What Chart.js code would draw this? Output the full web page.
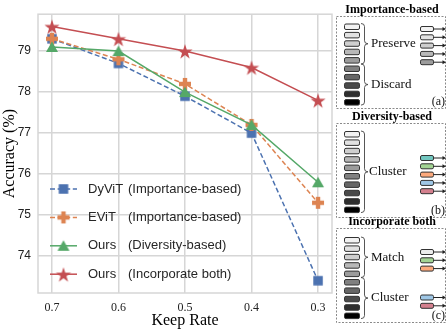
<!DOCTYPE html>
<html>
<head>
<meta charset="utf-8">
<script src="https://cdn.jsdelivr.net/npm/chart.js@4"></script>
<style>
  html, body { margin: 0; padding: 0; background: #fff; }
  #wrap { width: 447px; height: 330px; position: relative; }
</style>
</head>
<body>
<div id="wrap"><canvas id="mainChart" width="447" height="330"></canvas></div>
<script>
// ---- data ----
const keepRates = [0.7, 0.6, 0.5, 0.4, 0.3];
const dyvit    = [79.3, 78.7, 77.9, 77.0, 73.4];
const evit     = [79.3, 78.8, 78.2, 77.2, 75.3];
const oursDiv  = [79.1, 79.0, 78.0, 77.2, 75.8];
const oursBoth = [79.6, 79.3, 79.0, 78.6, 77.8];
const seriesNames = ["DyViT", "EViT", "Ours", "Ours"];
const seriesTags  = ["(Importance-based)", "(Importance-based)", "(Diversity-based)", "(Incorporate both)"];
const panelTitles = ["Importance-based", "Diversity-based", "Incorporate both"];
const panelTags   = ["(a)", "(b)", "(c)"];

const BLUE = "#4c72b0", ORANGE = "#dd8452", GREEN = "#55a868", RED = "#c44e52";
const GRID = "#d6d6d6";
const SERIF = "'Liberation Serif', 'DejaVu Serif', serif";
const SANS = "'Liberation Sans', Arial, sans-serif";

// ---- marker images ----
function markerCanvas(size, draw) {
  const c = document.createElement("canvas");
  c.width = size; c.height = size;
  draw(c.getContext("2d"), size / 2);
  return c;
}
const squareMark = markerCanvas(12, (g, m) => {
  g.fillStyle = BLUE; g.fillRect(m - 4.75, m - 4.75, 9.5, 9.5);
});
const plusMark = markerCanvas(14, (g, m) => {
  g.fillStyle = ORANGE;
  g.fillRect(m - 6, m - 2.2, 12, 4.4);
  g.fillRect(m - 2.2, m - 6, 4.4, 12);
});
const triMark = markerCanvas(14, (g, m) => {
  g.fillStyle = GREEN;
  g.beginPath();
  g.moveTo(m, m - 5.5); g.lineTo(m + 6, m + 5); g.lineTo(m - 6, m + 5);
  g.closePath(); g.fill();
});
const starMark = markerCanvas(20, (g, m) => {
  const R = 8, r = R * 0.382;
  g.fillStyle = RED;
  g.beginPath();
  for (let i = 0; i < 10; i++) {
    const a = -Math.PI / 2 + i * Math.PI / 5;
    const rr = i % 2 ? r : R;
    g.lineTo(m + rr * Math.cos(a), m + 1 + rr * Math.sin(a));
  }
  g.closePath(); g.fill();
});

const marks = [squareMark, plusMark, triMark, starMark];
const colors = [BLUE, ORANGE, GREEN, RED];
const dashes = [[5, 2.6], [5, 2.6], [], []];

function series(vals) {
  return vals.map((v, i) => ({ x: keepRates[i], y: v }));
}

// ---- frame, legend and right-hand diagrams ----
const tokenShades = ["#f2f2f2", "#e2e2e2", "#cfcfcf", "#b8b8b8", "#9c9c9c",
                     "#808080", "#666666", "#4a4a4a", "#2e2e2e", "#000000"];
const TEAL = "#72c7c0", LGREEN = "#a2d393", LORANGE = "#fba97c", LBLUE = "#9fc7e6", PINK = "#d4808e";

function token(ctx, x, y, w, h, fill) {
  ctx.fillStyle = fill;
  ctx.strokeStyle = "#333";
  ctx.lineWidth = 1;
  ctx.beginPath();
  ctx.roundRect(x + 0.5, y + 0.5, w, h, 1.5);
  ctx.fill(); ctx.stroke();
}
function arrowOut(ctx, x, y, x2) {
  ctx.strokeStyle = "#222"; ctx.lineWidth = 1;
  ctx.beginPath(); ctx.moveTo(x, y); ctx.lineTo(x2 - 2, y); ctx.stroke();
  ctx.fillStyle = "#222";
  ctx.beginPath(); ctx.moveTo(x2, y); ctx.lineTo(x2 - 3.5, y - 2); ctx.lineTo(x2 - 3.5, y + 2); ctx.closePath(); ctx.fill();
}
function brace(ctx, x, y1, y2, w) {
  const mid = (y1 + y2) / 2, h = w / 2;
  ctx.strokeStyle = "#444"; ctx.lineWidth = 0.9;
  ctx.beginPath();
  ctx.moveTo(x, y1);
  ctx.quadraticCurveTo(x + h, y1, x + h, y1 + 3);
  ctx.lineTo(x + h, mid - 3);
  ctx.quadraticCurveTo(x + h, mid, x + w, mid);
  ctx.quadraticCurveTo(x + h, mid, x + h, mid + 3);
  ctx.lineTo(x + h, y2 - 3);
  ctx.quadraticCurveTo(x + h, y2, x, y2);
  ctx.stroke();
}

const panelTops = [16, 123, 228];
const panelBottoms = [108, 217, 322];
const tokenStarts = [23.5, 131, 237];

const extras = {
  id: "extras",
  beforeDatasetsDraw(chart) {
    const { ctx, chartArea: a } = chart;
    ctx.save();
    ctx.strokeStyle = GRID; ctx.lineWidth = 1.5;
    ctx.strokeRect(a.left, a.top, a.right - a.left, a.bottom - a.top);
    ctx.restore();
  },
  afterDraw(chart) {
    const ctx = chart.ctx;
    ctx.save();
    // legend
    for (let i = 0; i < 4; i++) {
      const y = 189 + i * 28.4;
      ctx.strokeStyle = colors[i]; ctx.lineWidth = 1.5;
      ctx.setLineDash(dashes[i]);
      ctx.beginPath(); ctx.moveTo(50, y); ctx.lineTo(77, y); ctx.stroke();
      ctx.setLineDash([]);
      ctx.drawImage(marks[i], 63.5 - marks[i].width / 2, y - marks[i].height / 2);
      ctx.fillStyle = "#262626";
      ctx.font = "13px " + SANS;
      ctx.textBaseline = "middle"; ctx.textAlign = "left";
      ctx.fillText(seriesNames[i], 88, y);
      ctx.fillText(seriesTags[i], 128, y);
    }

    // diagrams
    const X0 = 336, X1 = 446;
    for (let p = 0; p < 3; p++) {
      ctx.fillStyle = "#000";
      ctx.font = "bold 12px " + SERIF;
      ctx.textAlign = "center"; ctx.textBaseline = "middle";
      ctx.fillText(panelTitles[p], 392, panelTops[p] - 6);
      ctx.strokeStyle = "#8a8a8a"; ctx.lineWidth = 1;
      ctx.setLineDash([2, 1.5]);
      ctx.strokeRect(X0 + 0.5, panelTops[p] + 0.5, X1 - X0 - 1, panelBottoms[p] - panelTops[p]);
      ctx.setLineDash([]);

      const pitch = 8.4, ty = tokenStarts[p];
      for (let k = 0; k < 10; k++) token(ctx, 344, ty + k * pitch, 15, 5.5, tokenShades[k]);
      const yTop = ty, yHalf = ty + 5 * pitch - 1.5, yEnd = ty + 9 * pitch + 6;

      ctx.font = "13px " + SERIF;
      ctx.textAlign = "left"; ctx.fillStyle = "#111";
      let outs = [];
      if (p === 0) {
        brace(ctx, 361, yTop, yHalf, 7);
        brace(ctx, 361, yHalf, yEnd, 7);
        ctx.fillText("Preserve", 371, (yTop + yHalf) / 2);
        ctx.fillText("Discard", 371, (yHalf + yEnd) / 2);
        outs = [[26, tokenShades[0]], [34.3, tokenShades[1]], [42.6, tokenShades[2]], [50.9, tokenShades[3]], [59.2, tokenShades[4]]];
      } else if (p === 1) {
        brace(ctx, 361, yTop, yEnd, 7);
        ctx.fillText("Cluster", 369, (yTop + yEnd) / 2);
        outs = [[155, TEAL], [163.3, LGREEN], [171.6, LORANGE], [179.9, LBLUE], [188.2, PINK]];
      } else {
        brace(ctx, 361, yTop, yHalf, 7);
        brace(ctx, 361, yHalf, yEnd, 7);
        ctx.fillText("Match", 371, (yTop + yHalf) / 2);
        ctx.fillText("Cluster", 371, (yHalf + yEnd) / 2);
        outs = [[249, "#ececec"], [257.3, LGREEN], [265.6, LORANGE], [294.5, LBLUE], [302.8, PINK]];
      }
      for (const [oy, col] of outs) {
        token(ctx, 420, oy, 13, 5, col);
        arrowOut(ctx, 434, oy + 3, 446);
      }
      ctx.font = "12px " + SERIF;
      ctx.textAlign = "right"; ctx.fillStyle = "#111";
      ctx.fillText(panelTags[p], 445, panelBottoms[p] - 6);
    }
    ctx.restore();
  }
};

new Chart(document.getElementById("mainChart").getContext("2d"), {
  type: "line",
  data: {
    datasets: [dyvit, evit, oursDiv, oursBoth].map((vals, i) => ({
      label: seriesNames[i] + " " + seriesTags[i],
      data: series(vals),
      borderColor: colors[i],
      backgroundColor: colors[i],
      borderWidth: 1.5,
      borderDash: dashes[i],
      pointStyle: marks[i],
      pointRadius: 6,
      pointHoverRadius: 6,
      tension: 0,
      fill: false,
      order: 4 - i
    }))
  },
  options: {
    responsive: false,
    animation: false,
    events: [],
    layout: { padding: { top: 1, right: 115, left: 0, bottom: 0 } },
    plugins: {
      legend: { display: false },
      tooltip: { enabled: false }
    },
    scales: {
      x: {
        type: "linear",
        reverse: true,
        min: 0.279,
        max: 0.721,
        afterBuildTicks(scale) { scale.ticks = keepRates.map(v => ({ value: v })); },
        afterFit(scale) { scale.height = 37; },
        grid: { color: GRID, lineWidth: 1.5, drawTicks: false },
        border: { display: false },
        ticks: {
          padding: 8,
          color: "#222",
          font: { family: SERIF, size: 12 },
          callback: v => v.toFixed(1)
        },
        title: {
          display: true,
          text: "Keep Rate",
          color: "#000",
          font: { family: SERIF, size: 16 },
          padding: { top: 0, bottom: 0 }
        }
      },
      y: {
        min: 73.1,
        max: 79.9,
        afterFit(scale) { scale.width = 38; },
        grid: { color: GRID, lineWidth: 1.5, drawTicks: false },
        border: { display: false },
        ticks: {
          stepSize: 1,
          includeBounds: false,
          padding: 7,
          color: "#222",
          font: { family: SANS, size: 12 }
        },
        title: {
          display: true,
          text: "Accuracy (%)",
          color: "#000",
          font: { family: SERIF, size: 16 },
          padding: { top: 0, bottom: 0 }
        }
      }
    }
  },
  plugins: [extras]
});
</script>
</body>
</html>
